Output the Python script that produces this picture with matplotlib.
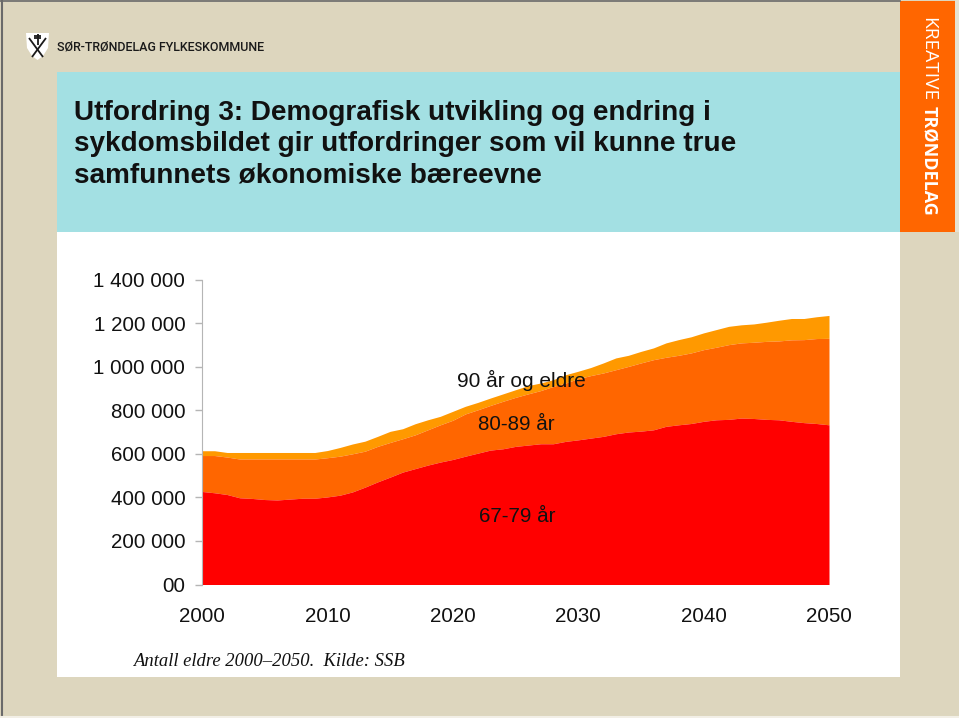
from matplotlib import pyplot as plt
from matplotlib.patches import Polygon, Rectangle

years = list(range(2000, 2051))

# top edge of each band, in thousands of people
upto_79 = [427, 421, 413, 398, 395, 390, 388, 392, 396, 396,
           402, 410, 425, 447, 471, 493, 516, 532, 548, 562,
           574, 589, 603, 617, 623, 634, 640, 646, 646, 657,
           664, 672, 680, 692, 700, 704, 710, 726, 733, 739,
           749, 756, 758, 764, 762, 758, 756, 749, 743, 739, 733]
upto_89 = [592, 592, 585, 576, 576, 576, 576, 576, 576, 576,
           582, 589, 600, 612, 634, 652, 669, 687, 710, 733,
           754, 783, 802, 822, 841, 859, 875, 890, 909, 925,
           945, 959, 971, 986, 1001, 1017, 1032, 1043, 1052, 1063,
           1078, 1089, 1101, 1109, 1112, 1116, 1118, 1123, 1124, 1129, 1130]
total = [614, 614, 606, 606, 606, 606, 606, 606, 606, 606,
         615, 629, 645, 658, 680, 703, 715, 738, 756, 772,
         795, 818, 836, 856, 875, 894, 913, 925, 940, 963,
         979, 996, 1017, 1040, 1052, 1070, 1086, 1109, 1124, 1137,
         1155, 1170, 1185, 1192, 1196, 1204, 1213, 1221, 1221, 1229, 1235]

y_ticks = [0, 200, 400, 600, 800, 1000, 1200, 1400]
y_labels = ['00', '200 000', '400 000', '600 000', '800 000',
            '1 000 000', '1 200 000', '1 400 000']
x_ticks = [2000, 2010, 2020, 2030, 2040, 2050]

title = ('Utfordring 3: Demografisk utvikling og endring i\n'
         'sykdomsbildet gir utfordringer som vil kunne true\n'
         'samfunnets økonomiske bæreevne')

plt.rcParams['font.family'] = ['Liberation Sans', 'DejaVu Sans']

fig = plt.figure(figsize=(9.59, 7.18), dpi=100, facecolor='#ddd6be')

# slide background, in pixel coordinates
bg = fig.add_axes([0, 0, 1, 1])
bg.set_xlim(0, 959)
bg.set_ylim(718, 0)
bg.axis('off')
bg.add_patch(Rectangle((57, 232), 843, 445, color='white', lw=0))
bg.add_patch(Rectangle((57, 72), 843, 160, color='#a3e0e3', lw=0))
bg.add_patch(Rectangle((900, 1), 55, 231, color='#ff6600', lw=0))
bg.add_patch(Rectangle((955, 0), 4, 232, color='#e6e2d2', lw=0))
bg.plot([1.5, 1.5], [0, 716], color='#6a6a6a', lw=1.5)
bg.plot([0, 900], [0.7, 0.7], color='#6a6a6a', lw=1.2)
bg.plot([0, 959], [716.5, 716.5], color='#f2efe6', lw=1.5)

# logo
bg.add_patch(Polygon([(26, 33), (49, 33), (48, 48), (43, 56), (37.5, 60),
                      (32, 56), (27, 48)], color='white', lw=0))
for xs, ys in [([37.5, 37.5], [34, 45]), ([34, 41], [38, 38]),
               ([29, 43], [38, 57]), ([46, 32], [38, 57]),
               ([34, 41], [35.5, 35.5])]:
    bg.plot(xs, ys, color='#1a1a1a', lw=1.3, solid_capstyle='butt')
bg.text(57, 47, 'SØR-TRØNDELAG FYLKESKOMMUNE', fontsize=9.0, fontweight='medium',
        color='#1a1a1a', va='center', ha='left', family=['Roboto', 'DejaVu Sans'])

# side strip
bg.text(928, 17, 'KREATIVE', rotation=-90, fontsize=13.8, color='white',
        ha='center', va='top', family=['Open Sans', 'DejaVu Sans'])
bg.text(928, 106, 'TRØNDELAG', rotation=-90, fontsize=13, fontweight='bold',
        color='white', ha='center', va='top', family=['Open Sans', 'DejaVu Sans'])

bg.text(74, 144, title, fontsize=20.1, fontweight='bold', color='#111111',
        va='center', ha='left', linespacing=1.26)
bg.text(133.5, 661, 'Antall eldre 2000–2050.  Kilde: SSB', fontsize=13.45,
        style='italic', family=['Liberation Serif', 'DejaVu Serif'],
        color='#111111', va='center', ha='left')

# chart
ax = fig.add_axes([202 / 959, (718 - 584.5) / 718, 627 / 959, 305 / 718])
ax.patch.set_alpha(0)
ax.fill_between(years, upto_89, total, color='#ff9900', lw=0)
ax.fill_between(years, upto_79, upto_89, color='#ff6600', lw=0)
ax.fill_between(years, 0, upto_79, color='#ff0000', lw=0)
ax.set_xlim(2000, 2050)
ax.set_ylim(0, 1400)
ax.set_yticks(y_ticks)
ax.set_yticklabels(y_labels, fontsize=14.8, color='#111111')
ax.set_xticks(x_ticks)
ax.set_xticklabels([str(x) for x in x_ticks], fontsize=14.8, color='#111111')
ax.tick_params(axis='y', length=5, color='#b5b5b5', width=1, pad=7)
ax.tick_params(axis='x', length=0, pad=16)
for side in ['top', 'right', 'bottom']:
    ax.spines[side].set_visible(False)
ax.spines['left'].set_color('#b5b5b5')

ax.text(2025.5, 935, '90 år og eldre', fontsize=15, ha='center', va='center', color='#111111')
ax.text(2025.1, 736, '80-89 år', fontsize=14.8, ha='center', va='center', color='#111111')
ax.text(2025.1, 314, '67-79 år', fontsize=14.8, ha='center', va='center', color='#111111')

plt.savefig('out.png', dpi=100, facecolor=fig.get_facecolor())
